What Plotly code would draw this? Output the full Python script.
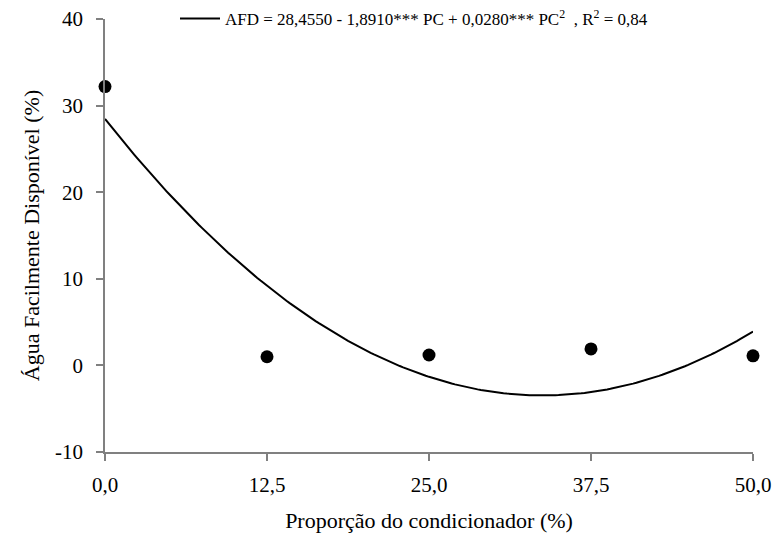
import numpy as np
import plotly.graph_objects as go

# Observed data
proporcao = [0.0, 12.5, 25.0, 37.5, 50.0]
afd = [32.2, 1.0, 1.2, 1.9, 1.1]

# Regression coefficients (from legend equation)
b0, b1, b2 = 28.4550, -1.8910, 0.0280

x_tick_vals = [0, 12.5, 25, 37.5, 50]
x_tick_text = ["0,0", "12,5", "25,0", "37,5", "50,0"]
y_tick_vals = [-10, 0, 10, 20, 30, 40]
y_tick_text = ["-10", "0", "10", "20", "30", "40"]

xf = np.linspace(0, 50, 201)
yf = b0 + b1 * xf + b2 * xf ** 2

font = "Liberation Serif, Times New Roman, serif"

fig = go.Figure()
fig.add_trace(go.Scatter(
    x=xf, y=yf, mode="lines",
    line=dict(color="black", width=2),
    name="AFD = 28,4550 - 1,8910*** PC + 0,0280*** PC<sup>2</sup>  , R<sup>2</sup> = 0,84",
    showlegend=True, cliponaxis=False,
))
fig.add_trace(go.Scatter(
    x=proporcao, y=afd, mode="markers",
    marker=dict(color="black", size=13),
    showlegend=False, cliponaxis=False,
))

axis_common = dict(
    showgrid=False, zeroline=False, showline=True, automargin=False,
    linecolor="#808080", linewidth=1.5,
    ticks="outside", ticklen=7, tickwidth=1.5, tickcolor="#808080",
    tickfont=dict(family=font, size=21, color="black"),
)

fig.update_layout(
    width=776, height=542,
    margin=dict(l=105, r=23, t=19, b=90, autoexpand=False),
    paper_bgcolor="white", plot_bgcolor="white",
    font=dict(family=font, color="black"),
    xaxis=dict(range=[0, 50], tickvals=x_tick_vals, ticktext=x_tick_text,
               ticklabelstandoff=6,
               title=dict(text="Proporção do condicionador (%)",
                          font=dict(family=font, size=22), standoff=17),
               **axis_common),
    yaxis=dict(range=[-10, 40], tickvals=y_tick_vals, ticktext=y_tick_text,
               ticklabelstandoff=9,
               title=dict(text="Água Facilmente Disponível (%)",
                          font=dict(family=font, size=22), standoff=9),
               **axis_common),
    legend=dict(x=(175 - 105) / 648, y=1.0, xanchor="left", yanchor="middle",
                bgcolor="rgba(0,0,0,0)", borderwidth=0,
                font=dict(family=font, size=17, color="black"),
                itemwidth=40),
)

fig.write_html("out.html")
